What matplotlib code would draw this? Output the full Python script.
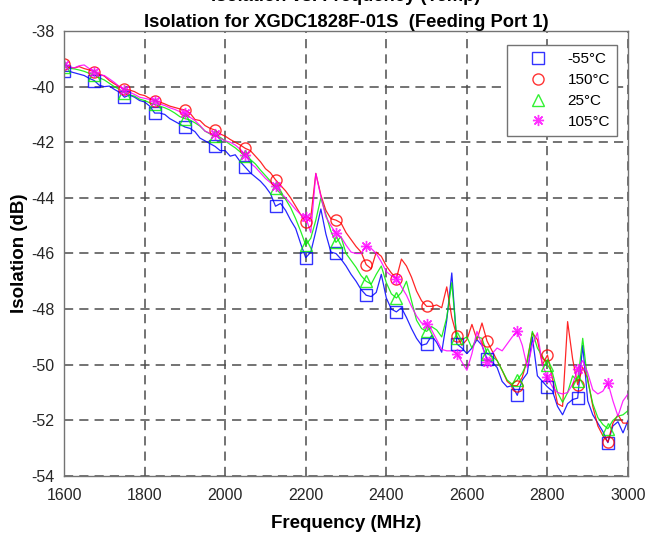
import matplotlib
matplotlib.use("Agg")
import matplotlib.pyplot as plt
import numpy as np

plt.rcParams['font.family'] = ['Liberation Sans', 'DejaVu Sans']
plt.rcParams['axes.unicode_minus'] = False

# frequency grid (MHz), 12.5 MHz steps, markers every 75 MHz
freq = np.arange(1600, 3000.1, 12.5)

# isolation (dB), one row per 100 MHz
iso_m55 = [
    -39.45, -39.45, -39.5, -39.55, -39.6, -39.7, -39.78, -39.95,
    -40.0, -39.98, -40.1, -40.2, -40.38, -40.3, -40.38, -40.5,
    -40.55, -40.7, -40.95, -40.95, -41.0, -41.15, -41.25, -41.35,
    -41.45, -41.5, -41.62, -41.85, -41.95, -42.05, -42.15, -42.3,
    -42.3, -42.5, -42.45, -42.7, -42.9, -43.1, -43.25, -43.4,
    -43.6, -43.85, -44.3, -44.2, -44.45, -44.8, -45.1, -45.65,
    -46.15, -45.95, -45.2, -44.4, -45.3, -45.95, -46.0, -46.2,
    -46.45, -46.75, -47.0, -47.3, -47.5, -47.55, -47.4, -46.75,
    -47.6, -48.0, -48.1, -47.95, -48.3, -48.7, -49.05, -49.3,
    -49.25, -48.95, -49.2, -49.55, -48.4, -46.7, -49.25, -49.4,
    -49.6, -49.4, -49.1, -49.3, -49.8, -49.9, -50.1, -50.6,
    -50.8, -50.75, -51.1, -50.55, -50.3, -49.0, -50.4, -50.6,
    -50.8, -50.95, -51.5, -51.8, -51.4, -51.25, -51.2, -49.3,
    -51.3, -51.8, -52.1, -52.4, -52.8, -52.2, -52.05, -52.45,
    -52.0]

iso_150 = [
    -39.2, -39.3, -39.33, -39.28, -39.35, -39.4, -39.46, -39.55,
    -39.62, -39.78, -39.9, -40.0, -40.1, -40.12, -40.18, -40.28,
    -40.32, -40.42, -40.5, -40.55, -40.62, -40.7, -40.75, -40.8,
    -40.84, -40.95, -41.18, -41.22, -41.4, -41.5, -41.56, -41.7,
    -41.78, -41.9, -42.0, -42.1, -42.22, -42.3, -42.5, -42.7,
    -42.95, -43.1, -43.35, -43.55, -43.75, -44.0, -44.3, -44.6,
    -44.88, -44.7, -43.12, -43.9, -44.45, -44.75, -44.8, -44.9,
    -45.25, -45.5, -45.75, -45.95, -46.4, -46.55, -45.95, -46.1,
    -46.45, -46.7, -46.9, -46.2, -46.45, -46.85, -47.35, -47.7,
    -47.9, -47.9, -47.85, -47.95, -47.2, -48.3, -48.97, -49.3,
    -49.1, -48.55, -49.1, -48.5, -49.15, -49.5, -49.85, -50.2,
    -50.6, -50.75, -50.75, -50.45, -49.8, -48.85, -49.1, -50.0,
    -49.65, -50.5, -51.4, -51.5, -48.45, -49.8, -50.72, -50.1,
    -50.5, -51.5, -52.2, -52.55, -52.78, -52.1, -51.8, -52.1,
    -52.1]

iso_25 = [
    -39.28, -39.34, -39.36, -39.4, -39.45, -39.52, -39.58, -39.68,
    -39.76, -39.88, -40.0, -40.1, -40.22, -40.3, -40.34, -40.45,
    -40.5, -40.58, -40.64, -40.7, -40.76, -40.84, -40.95, -41.08,
    -41.15, -41.2, -41.3, -41.42, -41.6, -41.7, -41.78, -41.82,
    -41.95, -42.08, -42.2, -42.35, -42.5, -42.62, -42.78, -43.0,
    -43.2, -43.4, -43.65, -43.85, -44.05, -44.35, -44.75, -45.2,
    -45.7, -45.45, -44.8, -44.0, -44.6, -45.2, -45.6, -45.4,
    -46.0, -46.25, -46.5, -46.8, -47.0, -47.1, -46.75, -46.45,
    -47.05, -47.45, -47.6, -47.4, -47.0, -47.7, -48.4, -48.7,
    -48.8, -48.63, -48.75, -49.0, -48.3, -47.05, -49.05, -49.1,
    -49.0, -49.4, -49.0, -49.05, -49.6, -49.7, -49.85, -50.2,
    -50.55, -50.7, -50.55, -50.3, -49.9, -48.8, -49.4, -49.7,
    -50.0, -50.3, -51.0, -51.35, -51.0, -50.4, -50.6, -49.05,
    -50.6, -51.4, -51.9, -52.15, -52.3, -52.0, -51.85, -51.8,
    -51.65]

iso_105 = [
    -39.22, -39.28, -39.33, -39.25, -39.22, -39.35, -39.46, -39.58,
    -39.6, -39.72, -39.85, -40.0, -40.12, -40.2, -40.28, -40.38,
    -40.42, -40.46, -40.5, -40.62, -40.68, -40.76, -40.82, -40.9,
    -40.96, -41.1, -41.22, -41.4, -41.6, -41.68, -41.72, -41.86,
    -41.95, -42.0, -42.1, -42.25, -42.45, -42.75, -42.9, -43.1,
    -43.3, -43.45, -43.58, -43.8, -44.0, -44.2, -44.42, -44.6,
    -44.7, -45.25, -43.12, -43.95, -44.68, -45.0, -45.27, -45.4,
    -45.7, -45.95, -46.0, -46.0, -45.73, -45.82, -46.0, -46.3,
    -46.65, -46.8, -46.9, -47.2, -47.5, -47.9, -48.25, -48.5,
    -48.53, -48.75, -49.1, -49.45, -49.5, -49.5, -49.6, -49.9,
    -50.2, -49.6, -48.8, -49.3, -49.9, -49.6, -49.4, -49.5,
    -49.25, -49.0, -48.8, -49.3, -50.1, -49.3, -48.85, -50.0,
    -50.45, -50.8, -51.0, -51.05, -51.0, -50.7, -50.15, -49.85,
    -50.3, -50.9, -51.05, -50.95, -50.65, -51.3, -51.85, -51.3,
    -51.05]

labels = ['-55°C', '150°C', '25°C', '105°C']
series = [iso_m55, iso_150, iso_25, iso_105]
colors = ['#0000ff', '#ff0000', '#00ee00', '#ff00ff']
markers = ['s', 'o', '^', (8, 2, 0)]
mark_step = 6   # 75 MHz

fig = plt.figure(figsize=(6.48, 5.33), dpi=100)
ax = fig.add_axes([0.0988, 0.107, 0.8704, 0.8348])

for y, c in zip(series, colors):
    ax.plot(freq, y, color=c, lw=0.9, alpha=0.85)
for y, c, m, lab in zip(series, colors, markers, labels):
    ax.plot(freq[::mark_step], np.array(y)[::mark_step], linestyle='none',
            marker=m, markersize=8, markerfacecolor='none',
            markeredgecolor=c, markeredgewidth=1.0, alpha=0.8, label=lab)

ax.set_xlim(1600, 3000)
ax.set_ylim(-54, -38)
ax.set_xticks(np.arange(1600, 3001, 200))
ax.set_yticks(np.arange(-54, -37, 2))
ax.grid(True, color='0.3', linestyle=(0, (6, 4)), linewidth=1.1)
ax.tick_params(length=0, labelsize=11.5, colors='0.15')
ax.tick_params(axis='x', pad=9)
ax.tick_params(axis='y', pad=7)
for s in ax.spines.values():
    s.set_color('0.45')
    s.set_linewidth(1.0)

ax.set_xlabel('Frequency (MHz)', fontsize=13.5, fontweight='bold', labelpad=8)
ax.set_ylabel('Isolation (dB)', fontsize=13.5, fontweight='bold', labelpad=2)
ax.set_title('Isolation vs. Frequency (Temp)\n'
             'Isolation for XGDC1828F-01S  (Feeding Port 1)',
             fontsize=13.2, fontweight='bold', pad=3, linespacing=1.65)

leg = ax.legend(loc='upper right', bbox_to_anchor=(0.980, 0.968),
                borderaxespad=0, fancybox=False, framealpha=1,
                edgecolor='0.45', fontsize=11, labelspacing=0.45,
                handlelength=3.2, handletextpad=0.3, borderpad=0.45)
leg.get_frame().set_linewidth(1.0)

fig.savefig('out.png', dpi=100)
